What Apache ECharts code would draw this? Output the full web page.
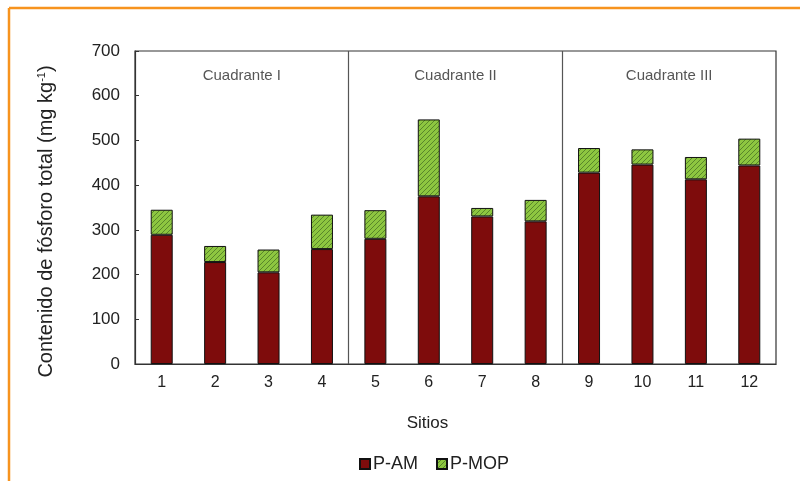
<!DOCTYPE html>
<html>
<head>
<meta charset="utf-8">
<script src="https://cdn.jsdelivr.net/npm/echarts@6/dist/echarts.min.js"></script>
<style>
  html, body { margin: 0; padding: 0; background: #fff; }
  #chart { width: 800px; height: 481px; }
</style>
</head>
<body>
<div id="chart"></div>
<script>
// sites on the x axis
var sitios = ['1', '2', '3', '4', '5', '6', '7', '8', '9', '10', '11', '12'];
// P-AM (bottom part of each bar), mg/kg
var pAM = [289, 228, 205, 257, 280, 375, 330, 319, 428, 446, 413, 444];
// P-MOP (hatched top part)
var pMOP = [56, 36, 51, 77, 64, 172, 19, 48, 55, 34, 50, 60];
// quadrant labels and where they sit
var cuadrantes = ['Cuadrante I', 'Cuadrante II', 'Cuadrante III'];
var cuadranteX = [2, 6, 10];
var separadores = [4, 8];

var fontFam = 'Liberation Sans, Arial, sans-serif';

// hatch pattern for P-MOP
var hatch = document.createElement('canvas');
hatch.width = 5;
hatch.height = 5;
var hc = hatch.getContext('2d');
hc.fillStyle = '#8dc640';
hc.fillRect(0, 0, 5, 5);
hc.strokeStyle = '#58862a';
hc.lineWidth = 1;
hc.beginPath();
hc.moveTo(-1, 6); hc.lineTo(6, -1);
hc.moveTo(-1, 1); hc.lineTo(1, -1);
hc.moveTo(4, 6); hc.lineTo(6, 4);
hc.stroke();

var myChart = echarts.init(document.getElementById('chart'));

var option = {
    animation: false,
    backgroundColor: '#fff',
    textStyle: { fontFamily: fontFam },
    grid: {
        left: 135, right: 24, top: 51, bottom: 117,
        show: true, borderColor: '#333', borderWidth: 1.2
    },
    legend: {
        bottom: 3,
        left: 354,
        itemWidth: 10,
        itemHeight: 10,
        itemGap: 18,
        icon: 'rect',
        textStyle: { fontSize: 18, color: '#222', fontFamily: fontFam, padding: [0, 0, 0, -2] },
        data: ['P-AM', 'P-MOP']
    },
    xAxis: [{
        type: 'category',
        data: sitios,
        axisLine: { lineStyle: { color: '#333', width: 1.2 } },
        axisTick: { show: false },
        axisLabel: { fontSize: 16, color: '#222', margin: 11 },
        name: 'Sitios',
        nameLocation: 'middle',
        nameGap: 51,
        nameTextStyle: { fontSize: 17, color: '#222', padding: [0, 56, 0, 0] }
    }, {
        type: 'value',
        min: 0,
        max: 12,
        show: false
    }],
    yAxis: {
        type: 'value',
        min: 0,
        max: 700,
        interval: 100,
        splitLine: { show: false },
        axisLine: { show: true, lineStyle: { color: '#333', width: 1.2 } },
        axisTick: { show: true, inside: true, length: 4, lineStyle: { color: '#333' } },
        axisLabel: { fontSize: 17, color: '#222', margin: 15 },
        name: 'Contenido de fósforo total (mg kg{sup|-1})',
        nameLocation: 'middle',
        nameRotate: 90,
        nameGap: 79,
        nameTextStyle: {
            fontSize: 20,
            color: '#222',
            padding: [0, 28, 0, 0],
            rich: {
                sup: { fontSize: 11, color: '#222', verticalAlign: 'top', padding: [0, 0, 9, 0] }
            }
        }
    },
    series: [{
        name: 'P-AM',
        type: 'bar',
        stack: 'total',
        barWidth: 22,
        data: pAM,
        itemStyle: { color: '#7e0c0c', borderColor: '#111', borderWidth: 1 }
    }, {
        name: 'P-MOP',
        type: 'bar',
        stack: 'total',
        barWidth: 22,
        data: pMOP,
        itemStyle: {
            color: { image: hatch, repeat: 'repeat' },
            borderColor: '#111',
            borderWidth: 1
        }
    }, {
        name: 'separadores',
        type: 'line',
        xAxisIndex: 1,
        data: separadores.map(function (x) { return [x, 0]; }),
        showSymbol: false,
        lineStyle: { opacity: 0 },
        silent: true,
        markLine: {
            symbol: 'none',
            silent: true,
            label: { show: false },
            lineStyle: { color: '#555', width: 1.2, type: 'solid' },
            data: separadores.map(function (x) { return { xAxis: x }; })
        }
    }, {
        name: 'cuadrantes',
        type: 'scatter',
        xAxisIndex: 1,
        symbolSize: 0,
        silent: true,
        data: cuadranteX.map(function (x, i) { return { value: [x, 645], name: cuadrantes[i] }; }),
        label: {
            show: true,
            position: 'inside',
            formatter: '{b}',
            fontSize: 15,
            color: '#2a2a2a'
        }
    }],
    graphic: [{
        type: 'line',
        shape: { x1: 9, y1: 8, x2: 800, y2: 8 },
        style: { stroke: '#f7931e', lineWidth: 2.5 }
    }, {
        type: 'line',
        shape: { x1: 9, y1: 8, x2: 9, y2: 481 },
        style: { stroke: '#f7931e', lineWidth: 2.5 }
    }]
};

myChart.setOption(option);
</script>
</body>
</html>
